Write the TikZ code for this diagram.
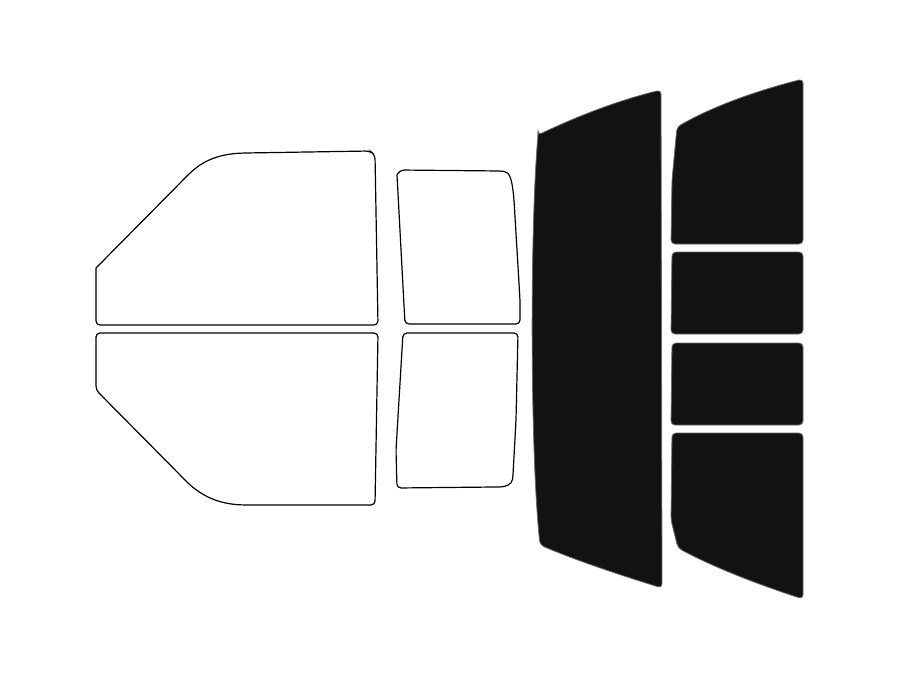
\documentclass[tikz,border=0pt]{standalone}
\begin{document}
\begin{tikzpicture}[x=1pt,y=-1pt,
 win/.style={draw=black,line width=1.2pt,fill=white,rounded corners=4pt},
 tint/.style={draw=black!60,line width=0.8pt,fill=black!93,rounded corners=4pt}]
\useasboundingbox (0,0) rectangle (900,675);
% front door
\draw[win] (96,268) -- (96,325) -- (378,325) -- (375,155) -- (370,151) -- (245,153) .. controls (220,154) and (205,160) .. (190,173) -- (96,268);
\draw[win] (96,333) -- (378,333) -- (375,505) -- (245,505) .. controls (220,504) and (205,497) .. (190,485) -- (96,390) -- cycle;
% rear door
\draw[win] (397,175) -- (400,170) -- (500,171) .. controls (510,172) and (512,180) .. (514,200) -- (520,300) -- (520,324) -- (405,324) -- (397,175);
\draw[win] (403,333) -- (518,333) -- (516,420) -- (513,475) .. controls (512,485) and (505,487) .. (495,487) -- (397,488) -- (396,450) -- cycle;
% back glass
\draw[tint] (538,135) .. controls (580,115) and (620,100) .. (661,90) -- (662,588) .. controls (620,575) and (575,560) .. (540,545) .. controls (530,450) and (530,230) .. (538,135) -- cycle;
% right column
\draw[tint] (677,127) .. controls (715,105) and (760,90) .. (803,79) -- (803,244) -- (671,244) -- (672,180) -- cycle;
\draw[tint] (672,252) -- (803,252) -- (803,334) -- (671,334) -- cycle;
\draw[tint] (672,343) -- (803,343) -- (803,425) -- (671,425) -- cycle;
\draw[tint] (672,433) -- (803,433) -- (803,599) .. controls (760,585) and (715,568) .. (678,548) -- (671,520) -- cycle;
\end{tikzpicture}
\end{document}
